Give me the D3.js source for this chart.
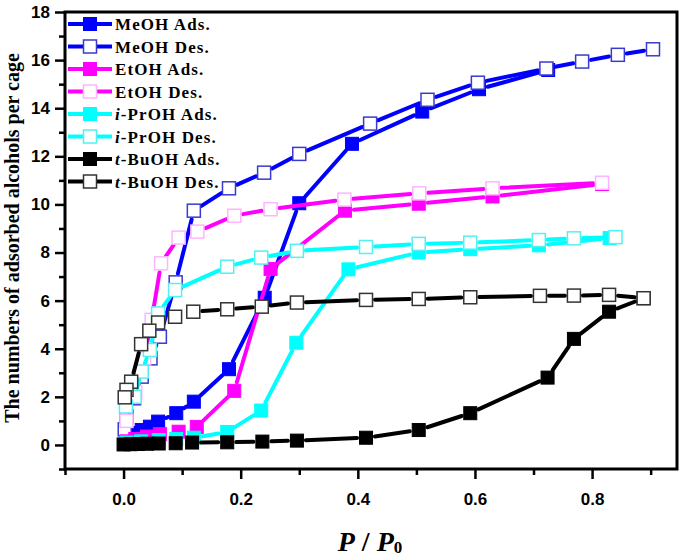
<!DOCTYPE html>
<html>
<head>
<meta charset="utf-8">
<script src="https://cdn.jsdelivr.net/npm/d3@7"></script>
<style>
  body { margin: 0; background: #fff; }
  svg { display: block; }
</style>
</head>
<body>
<div class="canvas"></div>
<script>
// Data (P/P0 vs number of molecules per cage)
const meohAdsX = [0.005, 0.02, 0.031, 0.045, 0.059, 0.09, 0.12, 0.18, 0.241, 0.30, 0.39, 0.51, 0.607, 0.725];
const meohAdsY = [0.3, 0.5, 0.62, 0.76, 0.97, 1.32, 1.8, 3.15, 6.12, 10.05, 12.52, 13.86, 14.79, 15.59];
const meohDesX = [0.904, 0.844, 0.783, 0.722, 0.605, 0.519, 0.421, 0.30, 0.24, 0.18, 0.12, 0.089, 0.062, 0.046, 0.031, 0.018, 0.005, 0.002];
const meohDesY = [16.45, 16.22, 15.94, 15.65, 15.06, 14.35, 13.36, 12.10, 11.32, 10.67, 9.74, 6.76, 4.5, 3.6, 2.84, 1.94, 1.18, 0.65];

const etohAdsX = [0.005, 0.02, 0.04, 0.062, 0.094, 0.125, 0.189, 0.251, 0.378, 0.504, 0.63, 0.817];
const etohAdsY = [0.15, 0.25, 0.35, 0.45, 0.55, 0.75, 2.25, 7.32, 9.74, 10.03, 10.33, 10.85];
const etohDesX = [0.817, 0.63, 0.505, 0.377, 0.251, 0.189, 0.126, 0.094, 0.064, 0.048, 0.035, 0.02, 0.005];
const etohDesY = [10.9, 10.67, 10.46, 10.2, 9.8, 9.53, 8.87, 8.62, 7.55, 5.2, 3.6, 2.2, 1.0];

const iprAdsX = [0.005, 0.03, 0.06, 0.09, 0.12, 0.177, 0.235, 0.295, 0.384, 0.504, 0.592, 0.709, 0.83];
const iprAdsY = [0.1, 0.15, 0.2, 0.25, 0.3, 0.54, 1.43, 4.25, 7.3, 8.0, 8.14, 8.3, 8.6];
const iprDesX = [0.84, 0.769, 0.709, 0.592, 0.504, 0.414, 0.296, 0.235, 0.177, 0.088, 0.059, 0.045, 0.031, 0.019, 0.004];
const iprDesY = [8.64, 8.59, 8.52, 8.41, 8.36, 8.23, 8.07, 7.79, 7.41, 6.44, 5.47, 3.95, 3.05, 2.0, 1.6];

const tbuAdsX = [0.0, 0.012, 0.025, 0.04, 0.06, 0.089, 0.117, 0.177, 0.237, 0.296, 0.414, 0.504, 0.592, 0.724, 0.769, 0.829, 0.888];
const tbuAdsY = [0.02, 0.03, 0.04, 0.05, 0.06, 0.07, 0.1, 0.11, 0.14, 0.18, 0.3, 0.62, 1.32, 2.8, 4.41, 5.54, 6.1];
const tbuDesX = [0.888, 0.829, 0.769, 0.711, 0.592, 0.504, 0.414, 0.296, 0.236, 0.177, 0.119, 0.088, 0.059, 0.044, 0.03, 0.013, 0.005, 0.002];
const tbuDesY = [6.1, 6.24, 6.21, 6.2, 6.14, 6.07, 6.03, 5.92, 5.75, 5.64, 5.54, 5.33, 5.09, 4.75, 4.19, 2.63, 2.29, 1.98];

// Legend names (prefix is italic)
const seriesPrefix = ['', '', '', '', 'i', 'i', 't', 't'];
const seriesNames = ['MeOH Ads.', 'MeOH Des.', 'EtOH Ads.', 'EtOH Des.', '-PrOH Ads.', '-PrOH Des.', '-BuOH Ads.', '-BuOH Des.'];

// Tick labels
const xMajorTicks = [0.0, 0.2, 0.4, 0.6, 0.8];
const xMinorTicks = [-0.1, 0.1, 0.3, 0.5, 0.7, 0.9];
const yMajorTicks = [0, 2, 4, 6, 8, 10, 12, 14, 16, 18];
const yMinorTicks = [-1, 1, 3, 5, 7, 9, 11, 13, 15, 17];

// Series styles
const lineColors = ['#0000ff', '#0000ff', '#ff00ff', '#ff00ff', '#00ffff', '#00ffff', '#000000', '#000000'];
const markerStroke = ['#0000ff', '#3a3ad0', '#ff00ff', '#ffb4ff', '#00ffff', '#55f0f0', '#000000', '#333333'];
const filled = [true, false, true, false, true, false, true, false];

const seriesX = [meohAdsX, meohDesX, etohAdsX, etohDesX, iprAdsX, iprDesX, tbuAdsX, tbuDesX];
const seriesY = [meohAdsY, meohDesY, etohAdsY, etohDesY, iprAdsY, iprDesY, tbuAdsY, tbuDesY];

const svgWidth = 685;
const svgHeight = 560;
const plot = {left: 65, right: 677, top: 12, bottom: 469};
const markerSize = 13;
const lineGap = 9;

const svg = d3.select('.canvas').append('svg')
  .attr('width', svgWidth)
  .attr('height', svgHeight)
  .style('background-color', 'white');

const xScale = d3.scaleLinear().domain([-0.1, 0.945]).range([plot.left, plot.right]);
const yScale = d3.scaleLinear().domain([-1, 18]).range([plot.bottom, plot.top]);

// Axes: major ticks with labels, minor ticks without
function styleAxis(g) {
  g.select('.domain').remove();
  g.selectAll('line').attr('stroke', '#000').attr('stroke-width', 2.5);
  g.selectAll('text')
    .attr('font-family', 'Liberation Sans, Arial, sans-serif')
    .attr('font-weight', 'bold')
    .attr('font-size', 17)
    .attr('fill', '#000');
}

svg.append('g')
  .attr('transform', 'translate(0,' + plot.bottom + ')')
  .call(d3.axisBottom(xScale).tickValues(xMajorTicks).tickSize(10).tickPadding(14).tickFormat(d3.format('.1f')))
  .call(styleAxis);
svg.append('g')
  .attr('transform', 'translate(0,' + plot.bottom + ')')
  .call(d3.axisBottom(xScale).tickValues(xMinorTicks).tickSize(6).tickFormat(''))
  .call(styleAxis);
svg.append('g')
  .attr('transform', 'translate(' + plot.left + ',0)')
  .call(d3.axisLeft(yScale).tickValues(yMajorTicks).tickSize(10).tickPadding(5).tickFormat(d3.format('d')))
  .call(styleAxis);
svg.append('g')
  .attr('transform', 'translate(' + plot.left + ',0)')
  .call(d3.axisLeft(yScale).tickValues(yMinorTicks).tickSize(6).tickFormat(''))
  .call(styleAxis);

// Draw a polyline as separate segments that stop short of the markers
function gappedSegments(pts) {
  const segs = [];
  for (let i = 1; i < pts.length; i++) {
    const [x0, y0] = pts[i - 1];
    const [x1, y1] = pts[i];
    const len = Math.hypot(x1 - x0, y1 - y0);
    if (len <= 2 * lineGap + 2) continue;
    const ux = (x1 - x0) / len, uy = (y1 - y0) / len;
    segs.push([x0 + ux * lineGap, y0 + uy * lineGap, x1 - ux * lineGap, y1 - uy * lineGap]);
  }
  return segs;
}

const dataLayer = svg.append('g');

seriesX.forEach((xs, s) => {
  const pts = xs.map((v, i) => [xScale(v), yScale(seriesY[s][i])]);
  const g = dataLayer.append('g');

  g.selectAll('line')
    .data(gappedSegments(pts))
    .enter()
    .append('line')
    .attr('x1', d => d[0]).attr('y1', d => d[1])
    .attr('x2', d => d[2]).attr('y2', d => d[3])
    .attr('stroke', lineColors[s])
    .attr('stroke-width', 4)
    .attr('stroke-linecap', 'round');

  g.selectAll('rect')
    .data(pts)
    .enter()
    .append('rect')
    .attr('x', d => d[0] - markerSize / 2)
    .attr('y', d => d[1] - markerSize / 2)
    .attr('width', markerSize)
    .attr('height', markerSize)
    .attr('fill', filled[s] ? lineColors[s] : '#fff')
    .attr('stroke', markerStroke[s])
    .attr('stroke-width', filled[s] ? 1 : 1.5);
});

// Frame
svg.append('rect')
  .attr('x', plot.left)
  .attr('y', plot.top)
  .attr('width', plot.right - plot.left)
  .attr('height', plot.bottom - plot.top)
  .attr('fill', 'none')
  .attr('stroke', '#000')
  .attr('stroke-width', 3);

// Legend
const legend = svg.append('g');
const legendRows = d3.range(seriesNames.length).map(i => 24 + i * 22.5);

seriesNames.forEach((name, i) => {
  const yy = legendRows[i];
  const row = legend.append('g');
  row.append('line')
    .attr('x1', 68).attr('x2', 84).attr('y1', yy).attr('y2', yy)
    .attr('stroke', lineColors[i]).attr('stroke-width', 4);
  row.append('line')
    .attr('x1', 96).attr('x2', 112).attr('y1', yy).attr('y2', yy)
    .attr('stroke', lineColors[i]).attr('stroke-width', 4);
  row.append('rect')
    .attr('x', 90 - markerSize / 2).attr('y', yy - markerSize / 2)
    .attr('width', markerSize).attr('height', markerSize)
    .attr('fill', filled[i] ? lineColors[i] : '#fff')
    .attr('stroke', markerStroke[i])
    .attr('stroke-width', filled[i] ? 1 : 1.5);
  const t = row.append('text')
    .attr('x', 115).attr('y', yy + 6)
    .attr('font-family', 'Liberation Serif, Times New Roman, serif')
    .attr('font-weight', 'bold')
    .attr('font-size', 17)
    .attr('letter-spacing', 1.1);
  if (seriesPrefix[i]) t.append('tspan').attr('font-style', 'italic').text(seriesPrefix[i]);
  t.append('tspan').text(name);
});

// Axis titles
svg.append('text')
  .attr('transform', 'translate(19,238)rotate(-90)')
  .attr('text-anchor', 'middle')
  .attr('font-family', 'Liberation Serif, Times New Roman, serif')
  .attr('font-weight', 'bold')
  .attr('font-size', 20)
  .text('The numbers of adsorbed alcohols per cage');

const xTitle = svg.append('text')
  .attr('x', 370)
  .attr('y', 551)
  .attr('text-anchor', 'middle')
  .attr('font-family', 'Liberation Serif, Times New Roman, serif')
  .attr('font-weight', 'bold')
  .attr('font-size', 28);
xTitle.append('tspan').attr('font-style', 'italic').text('P');
xTitle.append('tspan').text(' / ');
xTitle.append('tspan').attr('font-style', 'italic').text('P');
xTitle.append('tspan').attr('font-size', 17).attr('dy', 2).text('0');
</script>
</body>
</html>
